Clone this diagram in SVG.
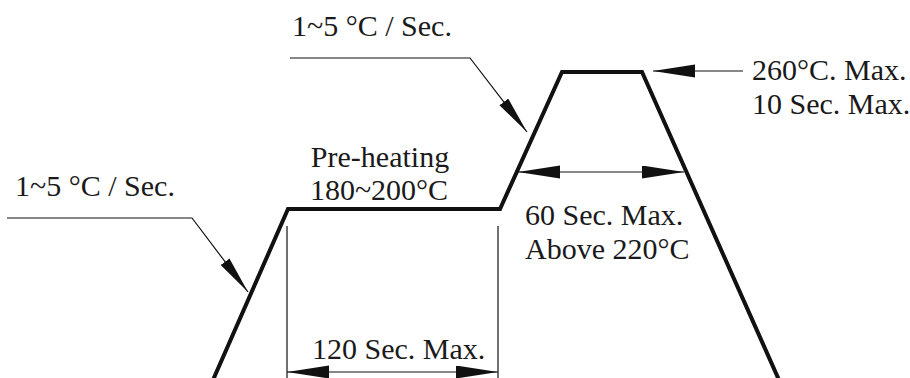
<svg xmlns="http://www.w3.org/2000/svg" width="910" height="378" viewBox="0 0 910 378">
<style>
  text { font-family: "Liberation Serif", "Times New Roman", serif; font-size: 30px; fill: #1a1a1a; }
  .profile { fill: none; stroke: #111; stroke-width: 4; stroke-linejoin: miter; }
  .thin { fill: none; stroke: #111; stroke-width: 1.2; }
</style>
<defs>
  <marker id="leadHead" markerUnits="userSpaceOnUse" markerWidth="40" markerHeight="12" refX="38" refY="5.5" orient="auto">
    <path d="M0,0 L38,5.5 L0,11 z" fill="#111"/>
  </marker>
  <marker id="dimHead" markerUnits="userSpaceOnUse" markerWidth="44" markerHeight="14" refX="42" refY="6.5" orient="auto-start-reverse">
    <path d="M0,0 L42,6.5 L0,13 z" fill="#111"/>
  </marker>
</defs>
<rect width="910" height="378" fill="#ffffff"/>
<g id="profile">
  <polyline class="profile" points="213,380 288,209 500,209 562,72 642,72 779,380"/>
</g>
<g id="connectors">
  <polyline id="leader-left" class="thin" points="7,218 192,218 248,292" marker-end="url(#leadHead)"/>
  <polyline id="leader-top" class="thin" points="290,58 470,58 527,132" marker-end="url(#leadHead)"/>
  <line id="arrow-peak" class="thin" x1="743" y1="71" x2="653" y2="71" marker-end="url(#dimHead)"/>
  <line id="dim-60" class="thin" x1="518" y1="172" x2="684" y2="172" marker-start="url(#dimHead)" marker-end="url(#dimHead)"/>
  <line id="ext-left" class="thin" x1="287" y1="226" x2="287" y2="378"/>
  <line id="ext-right" class="thin" x1="498" y1="226" x2="498" y2="378"/>
  <line id="dim-120" class="thin" x1="287" y1="372" x2="498" y2="372" marker-start="url(#dimHead)" marker-end="url(#dimHead)"/>
</g>
<g id="label-ramp-top"><text x="292" y="36">1~5 °C / Sec.</text></g>
<g id="label-ramp-left"><text x="15" y="196">1~5 °C / Sec.</text></g>
<g id="label-preheat">
  <text x="380" y="167" text-anchor="middle">Pre-heating</text>
  <text x="379" y="200" text-anchor="middle">180~200°C</text>
</g>
<g id="label-peak">
  <text x="752" y="80">260°C. Max.</text>
  <text x="752" y="114">10 Sec. Max.</text>
</g>
<g id="label-60">
  <text x="525" y="225">60 Sec. Max.</text>
  <text x="525" y="259">Above 220°C</text>
</g>
<g id="label-120"><text x="312" y="359">120 Sec. Max.</text></g>
</svg>
